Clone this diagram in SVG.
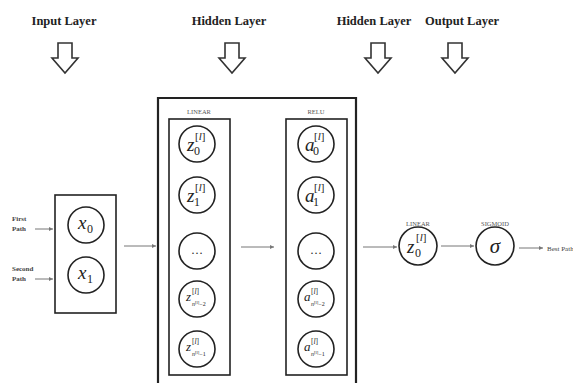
<svg xmlns="http://www.w3.org/2000/svg" width="573" height="383" viewBox="0 0 573 383">
<style>
.title{font-family:"Liberation Serif",serif;font-weight:bold;font-size:12.5px;fill:#222;text-anchor:middle}
.harrow{fill:#fff;stroke:#333;stroke-width:1.6;stroke-linejoin:miter}
.box{fill:none;stroke:#222;stroke-width:1.6}
.bigbox{fill:none;stroke:#222;stroke-width:2.2}
.node{fill:#fff;stroke:#222;stroke-width:1.6}
.conn{stroke:#777;stroke-width:1;fill:none;marker-end:url(#ah)}
.small{font-family:"Liberation Serif",serif;font-size:6.5px;fill:#555;text-anchor:middle}
.side{font-family:"Liberation Serif",serif;font-weight:bold;font-size:7px;fill:#444}
.var{font-family:"Liberation Serif",serif;font-style:italic;fill:#222}
.num{font-family:"Liberation Serif",serif;fill:#222}
</style>
<defs>
<marker id="ah" viewBox="0 0 6 6" refX="6" refY="3" markerWidth="4" markerHeight="4" orient="auto" markerUnits="userSpaceOnUse">
<path d="M0,0 L6,3 L0,6 z" fill="#777"/>
</marker>
<path id="hollow" d="M-7,0 L7,0 L7,15 L13,15 L0,30 L-13,15 L-7,15 Z"/>
</defs>

<g id="titles">
<text class="title" x="64" y="25">Input Layer</text>
<text class="title" x="229" y="25">Hidden Layer</text>
<text class="title" x="374" y="25">Hidden Layer</text>
<text class="title" x="462" y="25">Output Layer</text>
<use href="#hollow" class="harrow" x="65" y="43"/>
<use href="#hollow" class="harrow" x="232" y="43"/>
<use href="#hollow" class="harrow" x="378" y="43"/>
<use href="#hollow" class="harrow" x="455" y="43"/>
</g>

<g id="input-layer">
<rect class="box" x="55" y="195" width="61" height="118"/>
<text class="side" x="12" y="221">First</text>
<text class="side" x="12" y="231">Path</text>
<text class="side" x="12" y="271">Second</text>
<text class="side" x="12" y="281">Path</text>
</g>
<g id="x0"><circle class="node" cx="86" cy="225" r="18"/><text class="var" x="78" y="229" font-size="19">x</text><text class="num" x="87" y="233" font-size="12">0</text></g>
<g id="x1"><circle class="node" cx="86" cy="275" r="18"/><text class="var" x="78" y="279" font-size="19">x</text><text class="num" x="87" y="283" font-size="12">1</text></g>

<g id="hidden-layer">
<path class="bigbox" d="M158,383 L158,98 L356,98 L356,383"/>
<rect class="box" x="169" y="119" width="61" height="256"/>
<text class="small" x="199" y="114">LINEAR</text>
<rect class="box" x="286" y="119" width="61" height="256"/>
<text class="small" x="316" y="114">RELU</text>
</g>

<g id="z0"><circle class="node" cx="197" cy="144" r="18"/><text class="var" x="187" y="151" font-size="19">z</text><text class="num" x="195" y="140" font-size="11">[<tspan font-style="italic">l</tspan>]</text><text class="num" x="194" y="155" font-size="12">0</text></g>
<g id="z1"><circle class="node" cx="197" cy="195" r="18"/><text class="var" x="187" y="202" font-size="19">z</text><text class="num" x="195" y="191" font-size="11">[<tspan font-style="italic">l</tspan>]</text><text class="num" x="194" y="206" font-size="12">1</text></g>
<g id="zdots"><circle class="node" cx="197" cy="251" r="18"/><text class="num" x="197" y="254" font-size="12" text-anchor="middle">…</text></g>
<g id="zn2"><circle class="node" cx="197" cy="299" r="18"/><text class="var" x="186" y="301" font-size="13">z</text><text class="num" x="192" y="294" font-size="7.5">[<tspan font-style="italic">l</tspan>]</text><text class="num" x="192" y="306" font-size="6"><tspan font-style="italic">n</tspan><tspan font-size="4.5" dy="-2">[l]</tspan><tspan dy="2">−2</tspan></text></g>
<g id="zn1"><circle class="node" cx="197" cy="349" r="18"/><text class="var" x="186" y="351" font-size="13">z</text><text class="num" x="192" y="344" font-size="7.5">[<tspan font-style="italic">l</tspan>]</text><text class="num" x="192" y="356" font-size="6"><tspan font-style="italic">n</tspan><tspan font-size="4.5" dy="-2">[l]</tspan><tspan dy="2">−1</tspan></text></g>

<g id="a0"><circle class="node" cx="316" cy="144" r="18"/><text class="var" x="305" y="151" font-size="19">a</text><text class="num" x="314" y="140" font-size="11">[<tspan font-style="italic">l</tspan>]</text><text class="num" x="313" y="155" font-size="12">0</text></g>
<g id="a1"><circle class="node" cx="316" cy="195" r="18"/><text class="var" x="305" y="202" font-size="19">a</text><text class="num" x="314" y="191" font-size="11">[<tspan font-style="italic">l</tspan>]</text><text class="num" x="313" y="206" font-size="12">1</text></g>
<g id="adots"><circle class="node" cx="316" cy="251" r="18"/><text class="num" x="316" y="254" font-size="12" text-anchor="middle">…</text></g>
<g id="an2"><circle class="node" cx="316" cy="299" r="18"/><text class="var" x="304" y="301" font-size="13">a</text><text class="num" x="311" y="294" font-size="7.5">[<tspan font-style="italic">l</tspan>]</text><text class="num" x="311" y="306" font-size="6"><tspan font-style="italic">n</tspan><tspan font-size="4.5" dy="-2">[l]</tspan><tspan dy="2">−2</tspan></text></g>
<g id="an1"><circle class="node" cx="316" cy="349" r="18"/><text class="var" x="304" y="351" font-size="13">a</text><text class="num" x="311" y="344" font-size="7.5">[<tspan font-style="italic">l</tspan>]</text><text class="num" x="311" y="356" font-size="6"><tspan font-style="italic">n</tspan><tspan font-size="4.5" dy="-2">[l]</tspan><tspan dy="2">−1</tspan></text></g>

<g id="z-out">
<text class="small" x="418" y="226">LINEAR</text>
<circle class="node" cx="418" cy="246" r="19"/><text class="var" x="407" y="253" font-size="19">z</text><text class="num" x="416" y="241" font-size="11">[<tspan font-style="italic">l</tspan>]</text><text class="num" x="415" y="257" font-size="12">0</text>
</g>
<g id="sigmoid">
<text class="small" x="495" y="226">SIGMOID</text>
<circle class="node" cx="495" cy="246" r="19"/><text class="var" x="495" y="253" font-size="21" text-anchor="middle">σ</text>
</g>
<g id="output-label"><text class="side" x="547" y="251" style="font-weight:normal">Best Path</text></g>

<g id="connectors">
<line class="conn" x1="35" y1="229" x2="53" y2="229"/>
<line class="conn" x1="35" y1="279" x2="53" y2="279"/>
<line class="conn" x1="124" y1="246" x2="156" y2="246"/>
<line class="conn" x1="241" y1="247" x2="274" y2="247"/>
<line class="conn" x1="363" y1="247" x2="397" y2="247"/>
<line class="conn" x1="441" y1="246" x2="474" y2="246"/>
<line class="conn" x1="519" y1="248" x2="543" y2="248"/>
</g>
</svg>
